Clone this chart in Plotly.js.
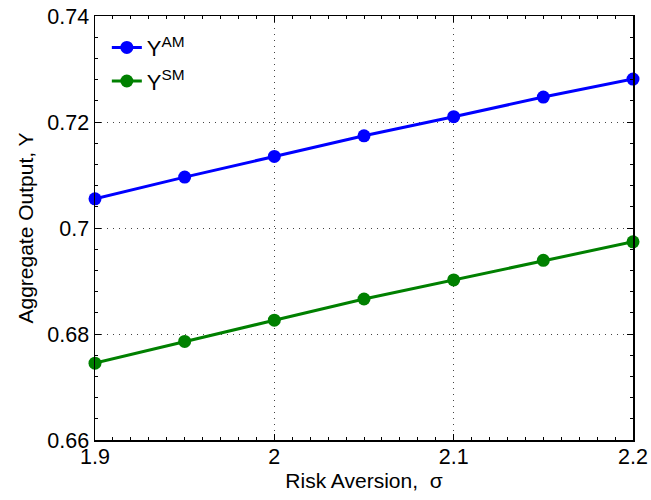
<!DOCTYPE html>
<html>
<head>
<meta charset="utf-8">
<script src="https://cdn.plot.ly/plotly-3.0.1.min.js"></script>
<style>html,body{margin:0;padding:0;background:#fff;}#chart{width:651px;height:500px;}</style>
</head>
<body>
<div id="chart"></div>
<script>
var sigma = [1.9, 1.95, 2.0, 2.05, 2.1, 2.15, 2.2];
var yAM = [0.7055, 0.7096, 0.7135, 0.7174, 0.7210, 0.7247, 0.7281];
var ySM = [0.6745, 0.6786, 0.6826, 0.6866, 0.6902, 0.6939, 0.6974];
var xTicks = [1.9, 2.0, 2.1, 2.2];
var xTickText = ['1.9', '2', '2.1', '2.2'];
var yTicks = [0.66, 0.68, 0.70, 0.72, 0.74];
var yTickText = ['0.66', '0.68', '0.7', '0.72', '0.74'];

var FONT = 'Liberation Sans, Arial, sans-serif';

var traces = [
  {x: sigma, y: yAM, name: 'Y<sup>AM</sup>', legendgroup: 'a', mode: 'lines+markers', cliponaxis: false,
   line: {color: '#0000ff', width: 3}, marker: {color: '#0000ff', size: 13}},
  {x: sigma, y: ySM, name: 'Y<sup>SM</sup>', legendgroup: 'b', mode: 'lines+markers', cliponaxis: false,
   line: {color: '#008000', width: 3}, marker: {color: '#008000', size: 13}}
];

var axBase = {
  showline: true, linecolor: '#000', linewidth: 1.5, mirror: 'allticks',
  ticks: 'inside', ticklen: 6, tickcolor: '#000', tickwidth: 1,
  showgrid: true, gridcolor: '#444', griddash: '1px,5px', gridwidth: 1,
  zeroline: false, tickfont: {family: FONT, size: 21.5, color: '#000'}
};

var layout = {
  width: 651, height: 500,
  margin: {l: 95, r: 18, t: 16, b: 60},
  paper_bgcolor: '#fff', plot_bgcolor: '#fff',
  showlegend: true,
  legend: {x: 0.022, y: 0.975, xanchor: 'left', yanchor: 'top', bgcolor: 'rgba(0,0,0,0)',
           font: {family: FONT, size: 22, color: '#000'},
           tracegroupgap: 2},
  xaxis: Object.assign({}, axBase, {
    range: [1.9, 2.2], tickvals: xTicks, ticktext: xTickText, ticklabelstandoff: -3,
    minor: {ticks: 'inside', ticklen: 3, tickcolor: '#000', showgrid: false, dtick: 0.01},
    title: {text: 'Risk Aversion,  σ', font: {family: FONT, size: 21, color: '#000'}, standoff: 0}
  }),
  yaxis: Object.assign({}, axBase, {
    range: [0.66, 0.74], tickvals: yTicks, ticktext: yTickText,
    minor: {ticks: 'inside', ticklen: 3, tickcolor: '#000', showgrid: false, dtick: 0.004},
    title: {text: 'Aggregate Output, Y', font: {family: FONT, size: 21, color: '#000'}, standoff: 8}
  })
};

Plotly.newPlot('chart', traces, layout, {displayModeBar: false, staticPlot: true});
</script>
</body>
</html>
